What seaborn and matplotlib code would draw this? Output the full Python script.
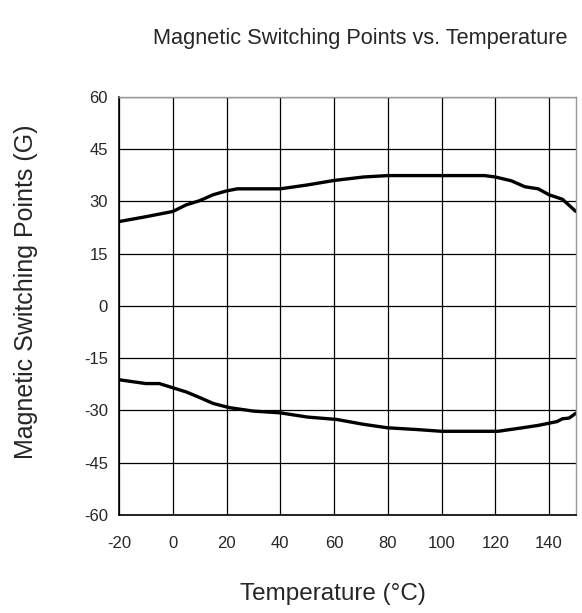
"""Magnetic switching points vs. temperature."""

import matplotlib
matplotlib.use("Agg")
import matplotlib.pyplot as plt
import pandas as pd
import seaborn as sns

# upper switching point (operate)
temp_upper = [-20, -10, 0, 5, 10, 15, 20, 24, 40, 50, 60, 71, 80, 100, 116, 120, 126, 131, 136, 140, 145, 150]
gauss_upper = [24.2, 25.6, 27.1, 29.0, 30.2, 31.9, 33.0, 33.6, 33.6, 34.7, 36.0, 37.0, 37.4, 37.4, 37.4, 37.0, 35.9, 34.2, 33.6, 31.9, 30.6, 27.1]

# lower switching point (release)
temp_lower = [-20, -10, -5, 0, 5, 10, 15, 21, 30, 40, 50, 61, 71, 80, 91, 100, 121, 130, 136, 143, 145, 147.5, 150]
gauss_lower = [-21.2, -22.3, -22.3, -23.5, -24.7, -26.3, -28.0, -29.2, -30.2, -30.7, -31.9, -32.6, -34.0, -35.0, -35.5, -36.0, -36.0, -35.0, -34.3, -33.2, -32.4, -32.2, -30.8]

x_ticks = [-20, 0, 20, 40, 60, 80, 100, 120, 140]
y_ticks = [-60, -45, -30, -15, 0, 15, 30, 45, 60]

frame = pd.concat([
    pd.DataFrame({"temp": temp_upper, "gauss": gauss_upper, "curve": "upper"}),
    pd.DataFrame({"temp": temp_lower, "gauss": gauss_lower, "curve": "lower"}),
])

sns.set_style("white")
plt.rcParams["font.family"] = ["Liberation Sans", "DejaVu Sans"]
plt.rcParams["axes.unicode_minus"] = False

fig = plt.figure(figsize=(5.82, 6.13), dpi=100)
ax = fig.add_axes([0.2045, 0.16, 0.785, 0.682])

sns.lineplot(data=frame, x="temp", y="gauss", units="curve", estimator=None,
             sort=False, color="black", linewidth=2.4, ax=ax)

ax.set_xlim(-20, 150)
ax.set_ylim(-60, 60)
ax.set_xticks(x_ticks)
ax.set_yticks(y_ticks)
ax.grid(True, color="black", linewidth=0.9)
ax.set_axisbelow(True)
ax.tick_params(length=0, labelsize=12)
ax.tick_params(axis="x", pad=15)
ax.tick_params(axis="y", pad=8)

for side in ["left", "bottom"]:
    ax.spines[side].set_color("black")
    ax.spines[side].set_linewidth(1.2)
for side in ["top", "right"]:
    ax.spines[side].set_color("#999999")
    ax.spines[side].set_linewidth(1.0)

ax.set_xlabel("Temperature (°C)", fontsize=17.5)
ax.xaxis.set_label_coords(0.468, -0.163)
ax.set_ylabel("Magnetic Switching Points (G)", fontsize=18)
ax.yaxis.set_label_coords(-0.177, 0.535)
fig.text(0.619, 0.938, "Magnetic Switching Points vs. Temperature", fontsize=15.7,
         ha="center", va="center")

fig.savefig("out.png", dpi=100)
plt.close(fig)
